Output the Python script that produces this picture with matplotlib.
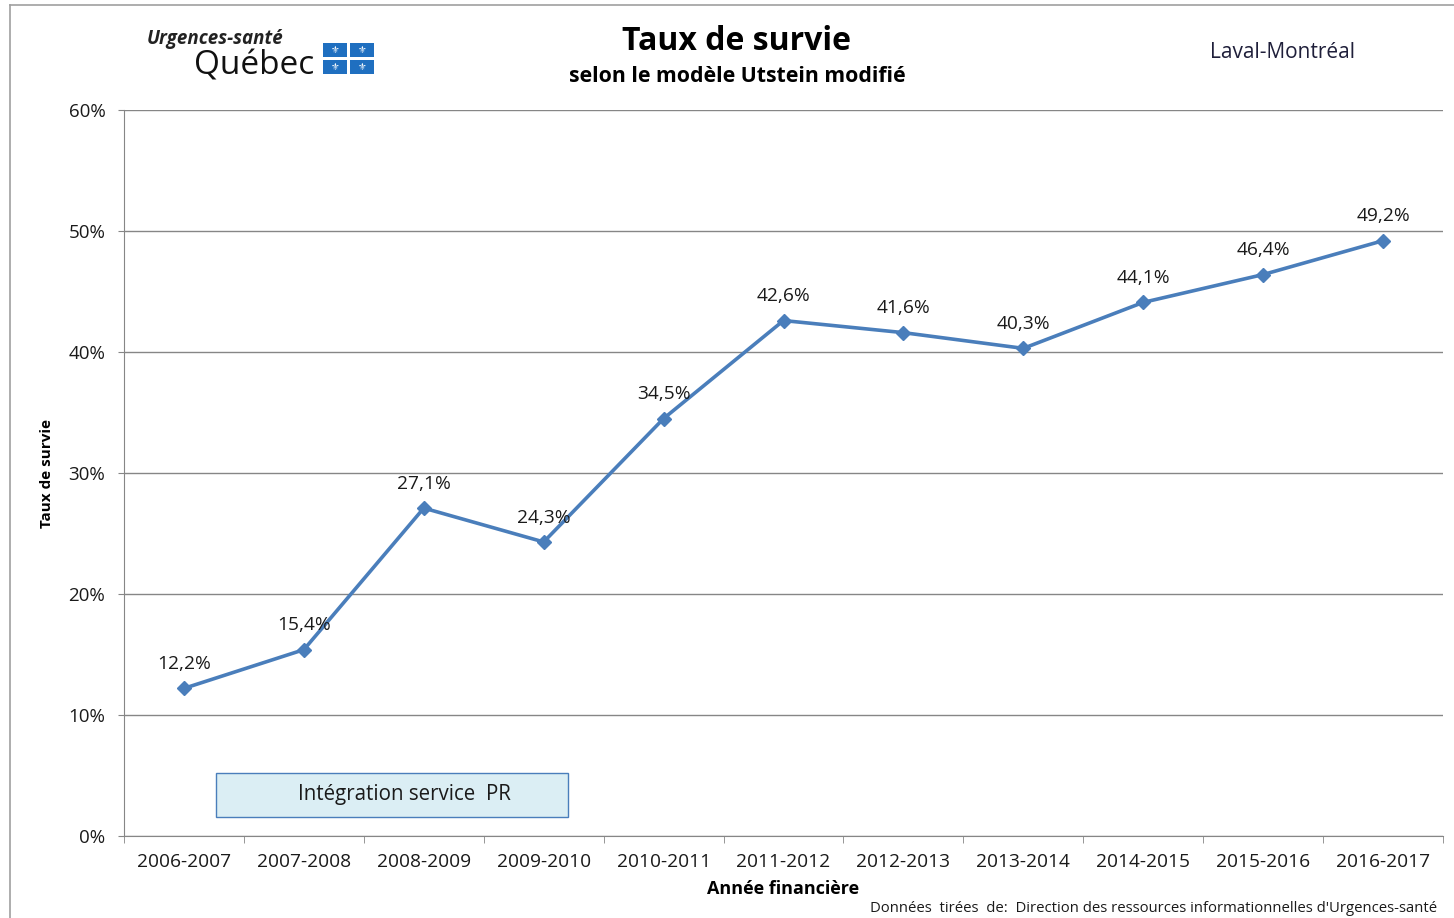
import matplotlib.pyplot as plt
from matplotlib.lines import Line2D
from matplotlib.patches import Rectangle

plt.rcParams['font.family'] = ['Open Sans', 'DejaVu Sans']

annees = ["2006-2007", "2007-2008", "2008-2009", "2009-2010", "2010-2011", "2011-2012",
          "2012-2013", "2013-2014", "2014-2015", "2015-2016", "2016-2017"]
taux = [12.2, 15.4, 27.1, 24.3, 34.5, 42.6, 41.6, 40.3, 44.1, 46.4, 49.2]
etiquettes = ["12,2%", "15,4%", "27,1%", "24,3%", "34,5%", "42,6%",
              "41,6%", "40,3%", "44,1%", "46,4%", "49,2%"]
yticks = [0, 10, 20, 30, 40, 50, 60]

bleu = "#4a7ebb"
gris = "#868686"
texte = "#1a1a1a"

fig = plt.figure(figsize=(14.54, 9.18), dpi=100)
ax = fig.add_axes([124 / 1454, 82 / 918, 1319 / 1454, 726 / 918])

x = list(range(len(annees)))
ax.plot(x, taux, color=bleu, lw=2.6, marker="D", ms=7, zorder=3)
for xi, yi, lab in zip(x, taux, etiquettes):
    ax.annotate(lab, (xi, yi), xytext=(0, 11), textcoords="offset points",
                ha="center", va="bottom", fontsize=13.8, color=texte)

ax.set_xlim(-0.5, len(annees) - 0.5)
ax.set_ylim(0, 60)
ax.set_yticks(yticks)
ax.set_yticklabels([f"{v}%" for v in yticks], fontsize=13.5, color=texte)
ax.set_xticks(x)
ax.set_xticklabels(annees, fontsize=13.8, color=texte)
ax.set_xticks([i - 0.5 for i in range(len(annees) + 1)], minor=True)
ax.tick_params(axis="x", which="major", length=0, pad=12)
ax.tick_params(axis="x", which="minor", length=5, color=gris, direction="out")
ax.tick_params(axis="y", length=4.5, color=gris, pad=9)
ax.yaxis.grid(True, color=gris, lw=1)
ax.set_axisbelow(True)
for s in ["top", "right"]:
    ax.spines[s].set_visible(False)
for s in ["left", "bottom"]:
    ax.spines[s].set_color(gris)

ax.set_xlabel("Année financière", fontsize=13, fontweight="bold", labelpad=7)
ax.set_ylabel("Taux de survie", fontsize=11, fontweight="bold", labelpad=10)

ax.text(0.2125, 0.0575, "Intégration service  PR", transform=ax.transAxes,
        ha="center", va="center", fontsize=14.8, color=texte, zorder=2)
ax.add_patch(Rectangle((92 / 1319, 19 / 726), 352 / 1319, 44 / 726, transform=ax.transAxes,
                       fc="#dbeef4", ec=bleu, lw=1, zorder=1))

# cadre
fig.add_artist(Line2D([10 / 1454, 10 / 1454], [0, 913 / 918], color="#a0a0a0", lw=1.2))
fig.add_artist(Line2D([10 / 1454, 1], [913 / 918, 913 / 918], color="#a0a0a0", lw=1.2))

# titres
fig.text(737 / 1454, 1 - 42 / 918, "Taux de survie", ha="center", va="center",
         fontsize=23, fontweight="bold")
fig.text(737 / 1454, 1 - 76 / 918, "selon le modèle Utstein modifié", ha="center",
         va="center", fontsize=15.3, fontweight="bold")
fig.text(1283 / 1454, 1 - 53 / 918, "Laval-Montréal", ha="center", va="center",
         fontsize=15, color="#1f1f3a")

# logo
fig.text(147 / 1454, 1 - 44 / 918, "Urgences-santé", ha="left", va="baseline",
         fontsize=13.5, fontweight="bold", style="italic", color="#222222")
fig.text(314 / 1454, 1 - 74 / 918, "Québec", ha="right", va="baseline",
         fontsize=24, color="#111111")
for cx, cy in [(323, 43), (350, 43), (323, 60), (350, 60)]:
    fig.add_artist(Rectangle((cx / 1454, 1 - (cy + 14) / 918), 24 / 1454, 14 / 918,
                             transform=fig.transFigure, fc="#1f6fc0", ec="none"))
    fig.text((cx + 12) / 1454, 1 - (cy + 7) / 918, "⚜", ha="center", va="center",
             fontsize=7, color="white", family="DejaVu Sans")

fig.text(1437 / 1454, 1 - 909 / 918, "Données  tirées  de:  Direction des ressources "
         "informationnelles d'Urgences-santé", ha="right", va="center", fontsize=10.7,
         color=texte)

fig.savefig("out.png", dpi=100)
